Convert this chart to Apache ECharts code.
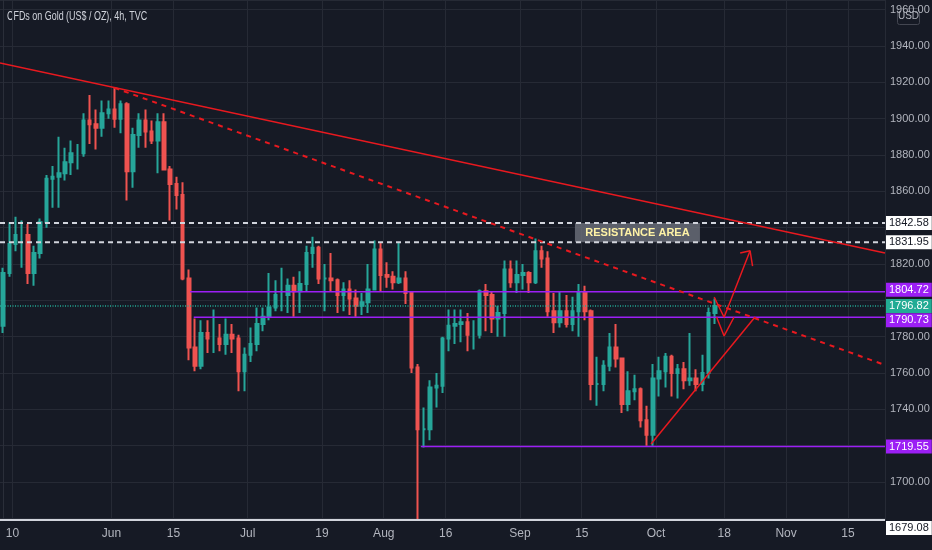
<!DOCTYPE html>
<html><head><meta charset="utf-8">
<script src="https://cdn.jsdelivr.net/npm/echarts@6/dist/echarts.min.js"></script>
<style>html,body{margin:0;padding:0;background:#161a25;}#c{width:932px;height:550px;}</style>
</head><body><div id="c"></div>
<script>
// ---------- data ----------
const title = 'CFDs on Gold (US$ / OZ), 4h, TVC';
const firstDay = '2021-05-06';
const dayCount = 143;
const tickDates = ['2021-05-10','2021-06-01','2021-06-15','2021-07-01','2021-07-19','2021-08-02','2021-08-16','2021-09-01','2021-09-15','2021-10-01','2021-10-18','2021-11-01','2021-11-15'];
const tickTexts = ['10','Jun','15','Jul','19','Aug','16','Sep','15','Oct','18','Nov','15'];

// daily OHLC from May 6 to Oct 14 (trading days)
const opens = [1786,1815,1831,1836,1836,1815,1826,1843,1867,1868,1870,1876,1881,1881,1899,1897,1895,1903,1905,1900,1908,1871,1891,1899,1893,1888,1898,1872,1864,1858,1812,1774,1764,1782,1779,1779,1776,1781,1779,1761,1770,1776,1787,1791,1796,1803,1803,1808,1805,1809,1826,1829,1812,1812,1811,1803,1806,1801,1797,1799,1806,1828,1814,1813,1810,1812,1804,1763,1729,1729,1752,1753,1779,1786,1787,1788,1781,1781,1805,1803,1790,1793,1817,1810,1814,1815,1810,1827,1823,1794,1788,1794,1787,1794,1804,1794,1754,1754,1764,1774,1768,1743,1750,1751,1734,1726,1757,1761,1769,1760,1762,1756,1757,1754,1760,1793];
const highs = [1818,1843,1846,1844,1842,1830,1845,1869,1874,1890,1884,1888,1886,1903,1913,1905,1910,1910,1917,1910,1909,1895,1903,1905,1899,1903,1903,1874,1868,1865,1817,1790,1789,1789,1795,1787,1790,1787,1781,1774,1785,1796,1796,1815,1811,1818,1812,1813,1816,1830,1835,1830,1820,1826,1812,1810,1811,1806,1804,1820,1833,1832,1821,1816,1832,1816,1805,1765,1741,1756,1760,1780,1795,1795,1795,1793,1789,1806,1809,1805,1797,1822,1822,1822,1820,1816,1834,1830,1827,1804,1805,1803,1802,1809,1808,1795,1769,1767,1782,1787,1768,1761,1759,1752,1742,1765,1769,1771,1770,1765,1766,1782,1762,1770,1796,1801];
const lows = [1782,1813,1827,1818,1809,1808,1823,1840,1851,1851,1866,1869,1872,1879,1886,1883,1890,1900,1895,1892,1855,1862,1884,1884,1886,1870,1873,1844,1850,1811,1767,1761,1762,1771,1771,1772,1770,1771,1750,1750,1766,1772,1783,1789,1794,1794,1793,1791,1793,1805,1818,1809,1794,1805,1793,1794,1792,1791,1792,1793,1806,1805,1807,1806,1809,1798,1760,1679.08,1719,1723,1741,1749,1772,1776,1777,1772,1773,1779,1783,1782,1780,1780,1807,1804,1806,1804,1809,1818,1791,1782,1785,1785,1783,1780,1789,1745,1742,1750,1761,1763,1738,1739,1745,1730,1720,1720,1747,1752,1747,1746,1751,1753,1750,1750,1757,1787];
const closes = [1815,1831,1836,1836,1815,1826,1843,1867,1868,1870,1876,1881,1881,1899,1897,1895,1903,1905,1900,1908,1871,1891,1899,1893,1888,1898,1872,1864,1858,1812,1774,1764,1782,1779,1779,1776,1781,1779,1761,1770,1776,1787,1791,1796,1803,1803,1808,1805,1809,1826,1829,1812,1812,1811,1803,1806,1801,1797,1799,1806,1828,1814,1813,1810,1812,1804,1763,1729,1729,1752,1753,1779,1786,1787,1788,1781,1781,1805,1803,1790,1793,1817,1810,1814,1815,1810,1827,1823,1794,1788,1794,1787,1794,1804,1794,1754,1754,1764,1774,1768,1743,1750,1751,1734,1726,1757,1761,1769,1760,1762,1756,1757,1754,1760,1793,1796.82];

// horizontal price levels: price, start (trading-day index)
const levelNames  = ['res1','res2','box1','last','box2','support','low'];
const levelPrices = [1842.58,1831.95,1804.72,1796.82,1790.73,1719.55,1679.08];
const levelStarts = [-0.5,-0.5,30.2,-0.5,30.8,67.5,-0.5];

// drawn trend lines / arrows in (trading-day index, price)
const trendSolid  = [[-0.5,1930.66],[142.5,1826.06]];
const trendDashed = [[18,1917],[142.5,1764.4]];
const trendRising = [[104.7,1720.9],[121.5,1790.8]];
const arrowUp     = [[114.9,1801.8],[116.5,1790.7],[120.7,1827.3]];
const arrowHead   = [[119.1,1826.1],[120.7,1827.3],[121.1,1818.9]];
const arrowDown   = [[115.3,1790.7],[116.5,1780.4],[118.1,1790.7]];
const resistanceBox = [[92.4,1842.58],[112.6,1831.95]];
const resistanceText = 'RESISTANCE AREA';

// ---------- build ----------
const categories = [];
{
  const d = new Date(firstDay + 'T00:00:00Z');
  while (categories.length < dayCount) {
    const wd = d.getUTCDay();
    if (wd !== 0 && wd !== 6) categories.push(d.toISOString().slice(0, 10));
    d.setUTCDate(d.getUTCDate() + 1);
  }
}
const tickMap = {};
tickDates.forEach((d, i) => tickMap[d] = tickTexts[i]);
const candles = opens.map((o, i) => [o, closes[i], lows[i], highs[i]]);

const FONT = '"Liberation Sans",Arial,sans-serif';
const styleFor = {
  res1:   {line:'#d1d4dc', type:[5,4], width:2, bg:'#ffffff', fg:'#131722', off:[0,0]},
  res2:   {line:'#d1d4dc', type:[5,4], width:2, bg:'#ffffff', fg:'#131722', off:[0,0]},
  box1:   {line:'#9c1ff5', type:'solid', width:1.5, bg:'#9c1ff5', fg:'#ffffff', off:[0,-2]},
  last:   {line:'#22ab94', type:[1,1.5], width:1.5, bg:'#22ab94', fg:'#ffffff', off:[0,0]},
  box2:   {line:'#9c1ff5', type:'solid', width:1.5, bg:'#9c1ff5', fg:'#ffffff', off:[0,3]},
  support:{line:'#9c1ff5', type:'solid', width:1.5, bg:'#9c1ff5', fg:'#ffffff', off:[0,0]},
  low:    {line:'#d1d4dc', type:'solid', width:2, bg:'#ffffff', fg:'#131722', off:[0,8]}
};

const RED = '#e8191f';
function seg(data, type, width) {
  return {
    type: 'line', xAxisIndex: 1, yAxisIndex: 0, data: data, symbol: 'none',
    silent: true, animation: false, z: 5,
    lineStyle: {color: RED, width: width, type: type}
  };
}

const series = [{
  type: 'candlestick', xAxisIndex: 0, yAxisIndex: 0, data: candles,
  barWidth: 3, animation: false, silent: true,
  itemStyle: {color:'#26a69a', color0:'#ef5350', borderColor:'#26a69a', borderColor0:'#ef5350', borderWidth:2}
}];

levelNames.forEach((name, i) => {
  const s = styleFor[name];
  series.push({
    type: 'line', xAxisIndex: 1, yAxisIndex: 0, symbol: 'none', silent: true, animation: false,
    z: name === 'low' ? 6 : 4,
    data: [[levelStarts[i], levelPrices[i]], [dayCount - 0.5, levelPrices[i]]],
    lineStyle: {color: s.line, width: s.width, type: s.type},
    endLabel: {
      show: true, distance: 1, formatter: () => levelPrices[i].toFixed(2),
      backgroundColor: s.bg, color: s.fg, padding: [2, 3, 1, 3],
      fontFamily: FONT, fontSize: 11, offset: s.off
    }
  });
});

series.push(seg(trendSolid, 'solid', 1.5));
series.push(seg(trendDashed, [5,5], 2));
series.push(seg(trendRising, 'solid', 1.5));
series.push(seg(arrowUp, 'solid', 1.5));
series.push(seg(arrowHead, 'solid', 1.5));
series.push(seg(arrowDown, 'solid', 1.5));
series.push({
  type: 'line', xAxisIndex: 1, yAxisIndex: 0, data: [], silent: true, animation: false,
  markArea: {
    silent: true,
    itemStyle: {color: 'rgba(112,115,126,0.78)'},
    label: {show: true, position: 'inside', formatter: resistanceText, color: '#fff3a6', fontSize: 11, fontWeight: 'bold', fontFamily: FONT},
    data: [[{coord: resistanceBox[0]}, {coord: resistanceBox[1]}]]
  }
});

const hiddenY = [1680, 1720, 1800, 1840];
const option = {
  backgroundColor: '#161a25',
  animation: false,
  grid: {left: 0, right: 47, top: 0, bottom: 30, containLabel: false, outerBoundsMode: 'none'},
  xAxis: [{
    type: 'category', data: categories, boundaryGap: true,
    axisLine: {show: false}, axisTick: {show: false},
    axisLabel: {
      interval: (idx, val) => tickMap[val] !== undefined,
      formatter: val => '{a|' + (tickMap[val] || '') + '}',
      margin: 8,
      rich: {a: {color: '#b2b5be', fontSize: 12, fontFamily: FONT, padding: [0, 6, 0, 0]}}
    },
    splitLine: {show: true, interval: (idx, val) => tickMap[val] !== undefined, lineStyle: {color: '#262a35', width: 1}}
  }, {
    type: 'value', min: -0.5, max: dayCount - 0.5, show: false
  }],
  yAxis: [{
    type: 'value', position: 'right', min: 1679.08, max: 1965.34, splitNumber: 14, scale: true,
    axisLine: {show: true, lineStyle: {color: '#2a2e39'}}, axisTick: {show: false},
    axisLabel: {
      margin: 5, color: '#b2b5be', fontSize: 11, fontFamily: FONT,
      showMinLabel: false, showMaxLabel: false,
      formatter: v => (hiddenY.indexOf(Math.round(v)) >= 0 || Math.abs(v - Math.round(v / 20) * 20) > 0.01) ? '' : v.toFixed(2)
    },
    splitLine: {show: true, lineStyle: {color: '#262a35', width: 1}}
  }],
  graphic: [
    {type: 'text', x: 7, y: 11, scaleX: 0.745, style: {text: title, fill: '#d1d4dc', fontSize: 12, fontFamily: FONT, verticalAlign: 'top'}},
    {type: 'group', left: 897, top: 8, children: [
      {type: 'rect', shape: {x: 0, y: 0, width: 22, height: 16, r: 2}, style: {fill: '#161a25', stroke: '#434651', lineWidth: 1}},
      {type: 'text', x: 11, y: 8, style: {text: 'USD', fill: '#b2b5be', fontSize: 10, fontFamily: FONT, align: 'center', verticalAlign: 'middle'}}
    ]}
  ],
  series: series
};
const chart = echarts.init(document.getElementById('c'), null, {renderer: 'canvas'});
chart.setOption(option);
</script></body></html>
